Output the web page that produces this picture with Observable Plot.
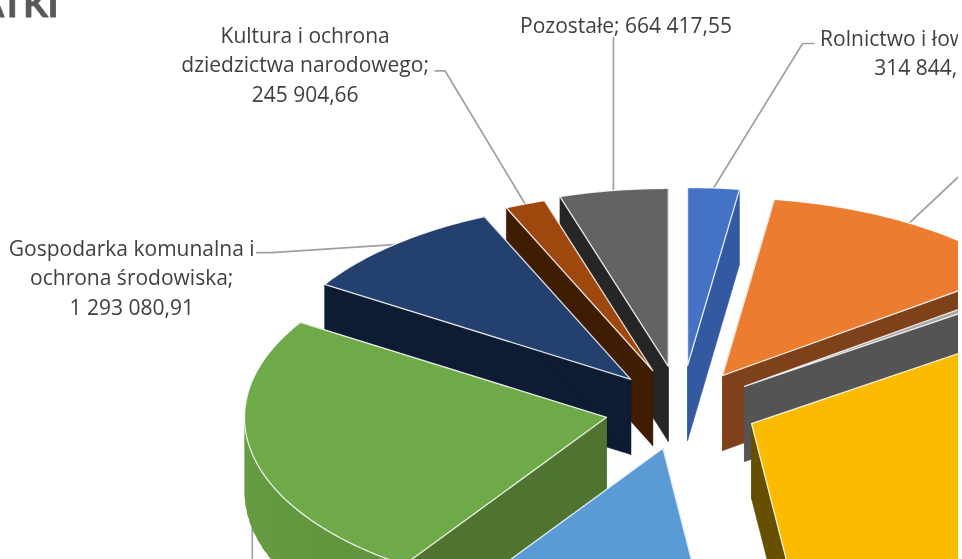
<!DOCTYPE html>
<html lang="pl">
<head>
<meta charset="utf-8">
<script src="https://cdn.jsdelivr.net/npm/d3@7"></script>
<script src="https://cdn.jsdelivr.net/npm/@observablehq/plot@0.6"></script>
<style>
html,body{margin:0;padding:0;background:#fff}
#frame{width:958px;height:559px;overflow:hidden;position:relative;background:#fff}
svg{filter:blur(.35px)}
</style>
</head>
<body>
<div id="frame"></div>
<script>
const categories = ["Rolnictwo i łowiectwo","Kategoria 2","Kategoria 3","Kategoria 4","Kategoria 5","Kategoria 6","Gospodarka komunalna i ochrona środowiska","Kultura i ochrona dziedzictwa narodowego","Pozostałe"];
const values = [314844.5,1740000,60000,4480000,1570000,3368000,1293080.91,245904.66,664417.55];
const topColors = ["#4472c4","#ec7c30","#a5a5a5","#fbbc00","#5b9bd5","#6eaa47","#23406f","#9e480e","#636363"];
const wallColors = ["#335aa1","#7e4119","#545454","#665000","#3d6f9f","#4e742f","#0d1b33","#3f1d00","#262626"];
// labels: [slice index, text lines]
const labelLines = [
  [0,"Rolnictwo i łowiectwo;"],
  [6,"Gospodarka komunalna i\nochrona środowiska;"],
  [7,"Kultura i ochrona\ndziedzictwa narodowego;"],
  [8,"Pozostałe;"]
];
const titleText = "WYDATKI";

// Layout
const W = 958, H = 559, cx = 679, cy = 408, rx = 362, ry = 178;
const explodeX = [.31,.23,.22,.218,.197,.206,.206,.21,.205];
const explodeY = [.242,.216,.215,.207,.23,.24,.216,.228,.239];
const depth = 0.422;
const drawOrder = [8,7,6,5,0,1,2,3,4];
const ux = px => px/rx, uy = px => px/ry; // px offset → pie units (y up)

const fmt = d3.formatLocale({decimal:",",thousands:" ",grouping:[3]}).format(",.2f");
const arcs = d3.pie().sort(null).value(d=>d)(values);
const slices = arcs.map((a,i)=>{
  const mid=(a.startAngle+a.endAngle)/2;
  return {i,a0:a.startAngle,a1:a.endAngle,mid,ox:explodeX[i]*Math.sin(mid),oy:explodeY[i]*Math.cos(mid)};
});
const rimPt=(s,t,d=0)=>({x:s.ox+Math.sin(t),y:s.oy+Math.cos(t)-d});
const apex=(s,d=0)=>({x:s.ox,y:s.oy-d});
const arcPts=(s,a,b,d=0)=>{const n=Math.max(2,Math.ceil((b-a)/0.01));return d3.range(n+1).map(k=>rimPt(s,a+(b-a)*k/n,d));};

const faceMarks=[];
const poly=(pts,opt)=>faceMarks.push(Plot.line([...pts,pts[0]],{x:"x",y:"y",...opt}));
for(const i of drawOrder){
  const s=slices[i], top=topColors[i], wall=wallColors[i];
  for(const t of [s.a0,s.a1])
    poly([apex(s),rimPt(s,t),rimPt(s,t,depth),apex(s,depth)],{fill:wall,stroke:wall,strokeWidth:.5});
  const a=Math.max(s.a0,Math.PI/2), b=Math.min(s.a1,Math.PI*1.5);
  if(b>a){
    const n=Math.ceil((b-a)/0.05);
    const col=d3.interpolateRgb(d3.color(top).darker(.42),d3.color(top).darker(.2));
    for(let k=0;k<n;k++){
      const t0=a+(b-a)*k/n,t1=Math.min(b,a+(b-a)*(k+1.6)/n),c=col(k/(n-1||1));
      poly([rimPt(s,t0),rimPt(s,t1),rimPt(s,t1,depth),rimPt(s,t0,depth)],{fill:c,stroke:"none"});
    }
  }
  poly([apex(s),...arcPts(s,s.a0,s.a1)],{fill:top,stroke:"#fff",strokeOpacity:.85,strokeWidth:1.3});
}

// Leaders start on each slice's rim at mid angle; bends are pixel offsets from there.
const rimMid=i=>rimPt(slices[i],slices[i].mid);
const leaderBends=[
  [8,[[0,-153]]],
  [0,[[89,-144.5],[100,-144.5]]],
  [7,[[-80,-133],[-90,-133]]],
  [6,[[-122.5,8],[-137.5,8]]],
  [5,[[0,160]]],
  [1,[[98,-92]]]
];
const leaderMarks=leaderBends.map(([i,b])=>{
  const p=rimMid(i);
  return Plot.line([p,...b.map(([dx,dy])=>({x:p.x+ux(dx),y:p.y-uy(dy)}))],{x:"x",y:"y",stroke:"#a0a0a0",strokeWidth:1.7});
});

// Label positions relative to the rim anchor, px
const labelOffsets=new Map([[8,[12.5,-167]],[0,[214,-137]],[7,[-220,-141]],[6,[-262.5,31]]]);
const labelData=labelLines.map(([i,t])=>{
  const p=rimMid(i),[dx,dy]=labelOffsets.get(i);
  const text=i===8?`${t} ${fmt(values[i])}`:`${t}\n${fmt(values[i])}`;
  return {x:p.x+ux(dx),y:p.y-uy(dy),text};
});

const chart=Plot.plot({
  width:W,height:H,margin:0,
  style:{background:"#fff",overflow:"hidden"},
  x:{axis:null,domain:[-cx/rx,(W-cx)/rx],range:[0,W]},
  y:{axis:null,domain:[cy/ry,(cy-H)/ry],range:[0,H]},
  marks:[
    ...leaderMarks,
    ...faceMarks,
    Plot.text(labelData,{x:"x",y:"y",text:"text",fill:"#404040",fontSize:21,fontFamily:"Open Sans",lineHeight:1.405,textAnchor:"middle",lineAnchor:"middle"}),
    Plot.text([titleText],{x:()=>ux(58-cx),y:()=>uy(cy-16.5),text:d=>d,textAnchor:"end",lineAnchor:"bottom",fill:"#595959",stroke:"#595959",strokeWidth:.8,fontWeight:"bold",fontSize:36,fontFamily:"Lato"})
  ]
});
document.getElementById("frame").appendChild(chart);
</script>
</body>
</html>
